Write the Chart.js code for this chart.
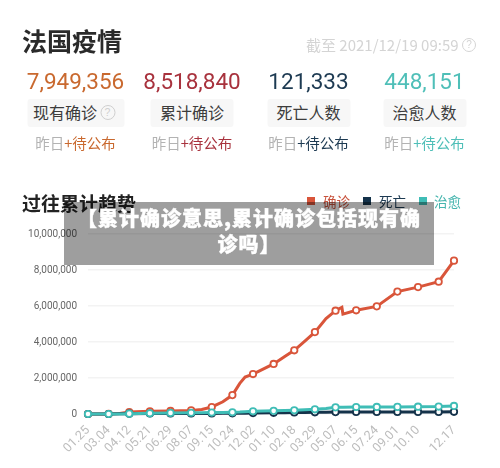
<!DOCTYPE html>
<html><head><meta charset="utf-8">
<script src="https://cdn.jsdelivr.net/npm/chart.js@4"></script>
<style>
html,body{margin:0;padding:0;background:#fff;width:500px;height:468px;overflow:hidden;font-family:"Noto Sans CJK SC","Noto Sans",sans-serif}
.t{position:absolute;white-space:nowrap;transform:translateX(-50%)}
#title{position:absolute;left:22px;top:24px;font-size:25px;line-height:32px;font-weight:700;color:#2a2a2a}
#stamp{position:absolute;left:306px;top:35px;font-size:15px;line-height:20px;color:#d4d4d4}
.q{display:inline-block;box-sizing:border-box;border:1.3px solid currentColor;border-radius:50%;text-align:center;font-family:"Liberation Sans"}
#stamp .q{position:absolute;left:156px;top:3px;width:14px;height:14px;font-size:10px;line-height:12px}
.pill .q{position:absolute;left:73px;top:6px;width:15px;height:15px;font-size:10.5px;line-height:13px;color:#cfcfcf;text-indent:0}
.num{font-family:Roboto,sans-serif;font-size:22.5px;line-height:30px;top:66px}
.pill{top:99px;height:28px;line-height:27px;background:#f7f7f7;border-radius:3px;font-size:16px;color:#3c3c3c;text-align:center;letter-spacing:0}
.sub{top:132px;font-size:14.5px;line-height:22px;color:#b3b3b3}
#trendTitle{position:absolute;left:22px;top:190px;font-size:19px;line-height:26px;font-weight:700;color:#222}
#legend{position:absolute;top:191px;left:0;width:500px;height:20px;font-size:13.5px;line-height:20px}
#legend i{position:absolute;top:6px;width:8px;height:8px}
#legend span{position:absolute;top:0}
#chart{position:absolute;left:0;top:0}
#banner{position:absolute;left:64px;top:202px;width:370px;height:63px;background:rgba(0,0,0,.38);color:#fff;font-weight:900;font-size:20px;line-height:26px;letter-spacing:1px;text-align:center;padding-top:3px;box-sizing:border-box;-webkit-text-stroke:.4px #fff}
</style></head><body>
<canvas id="chart" width="500" height="468"></canvas>
<div id="title">法国疫情</div>
<div id="stamp">截至 2021/12/19 09:59<span class="q">?</span></div>
<div id="cards"></div>
<div id="trendTitle">过往累计趋势</div>
<div id="legend"></div>
<div id="banner">【累计确诊意思,累计确诊包括现有确<br>诊吗】</div>
<script>
// Headline figures
const cardValues = ["7,949,356","8,518,840","121,333","448,151"];
const cardNames = ["现有确诊","累计确诊","死亡人数","治愈人数"];
const cardColors = ["#c9692f","#a8323d","#1d3a52","#4fbfb8"];
const cardCenters = [75.5,192,308.5,424.5];
const cardWidths = [97,83,83,83];

// Day offsets from 2020-01-25 with their axis labels; 11.18 has no printed label
const tickDays = [0,39,78,117,156,195,234,273,312,351,390,429,468,507,546,585,624,692];
const tickLabels = ["01.25","03.04","04.12","05.21","06.29","08.07","09.15","10.24","12.02","01.10","02.18","03.29","05.07","06.15","07.24","09.01","10.10","12.17"];
const markerDays = [0,39,78,117,156,195,234,273,312,351,390,429,468,507,546,585,624,663,692];

// Cumulative series, sampled by day offset
const sampleDays = [0,39,60,78,117,156,195,215,234,255,273,287,297,312,351,372,390,410,429,450,468,480,482,507,546,585,624,663,692];
const confirmedVals = [0,4000,30000,110000,150000,170000,200000,250000,390000,680000,1050000,1700000,2050000,2220000,2780000,3200000,3540000,4050000,4550000,5300000,5740000,5930000,5550000,5760000,5980000,6800000,7050000,7350000,8518840];
const deathVals = [0,100,10000,18000,28000,30000,31000,32000,33000,35000,38000,42000,46000,53000,67000,76000,84000,90000,95000,101000,106000,108000,108500,110000,112000,114000,115000,118000,121333];
const curedVals = [0,100,5000,20000,40000,60000,70000,75000,80000,85000,95000,105000,120000,150000,175000,190000,205000,230000,260000,310000,370000,375000,376000,390000,392000,395000,405000,415000,448151];

const seriesColors = {confirmed:"#d9553a",death:"#14324a",cured:"#3fbdb6"};

// Summary cards above the chart
const cards = document.getElementById("cards");
cardValues.forEach((v,i)=>{
  const c = cardCenters[i];
  const first = i===0;
  cards.insertAdjacentHTML("beforeend",
    `<div class="t num" style="left:${c}px;color:${cardColors[i]}">${v}</div>`+
    `<div class="t pill" style="left:${c}px;width:${cardWidths[i]}px;${first?'text-align:left;text-indent:6px;':''}">${cardNames[i]}${first?'<span class="q">?</span>':''}</div>`+
    `<div class="t sub" style="left:${c}px">昨日<span style="color:${cardColors[i]}">+待公布</span></div>`);
});

// Legend
const legendItems = [["确诊",seriesColors.confirmed,307,323,"#c8523c"],["死亡",seriesColors.death,363,379,"#1d3a52"],["治愈",seriesColors.cured,419,434,"#45b5ae"]];
const legend = document.getElementById("legend");
legendItems.forEach(([n,c,a,b,tc])=>{
  legend.insertAdjacentHTML("beforeend",`<i style="left:${a}px;background:${c}"></i><span style="left:${b}px;color:${tc}">${n}</span>`);
});

function toPoints(vals){return sampleDays.map((d,i)=>({x:d,y:vals[i]}));}
function markerRadius(ctx){return markerDays.includes(ctx.raw.x)?3.2:0;}
function dataset(vals,color,order){
  return {data:toPoints(vals),order,borderColor:color,backgroundColor:color,borderWidth:3,clip:false,
    tension:0,pointRadius:markerRadius,pointBackgroundColor:"#fff",pointBorderColor:color,pointBorderWidth:1.8,pointHoverRadius:0};
}

new Chart(document.getElementById("chart"),{
  type:"line",
  data:{datasets:[dataset(confirmedVals,seriesColors.confirmed,3),dataset(deathVals,seriesColors.death,2),dataset(curedVals,seriesColors.cured,1)]},
  options:{
    responsive:false,animation:false,
    layout:{padding:{left:0,right:46,top:234,bottom:0}},
    plugins:{legend:{display:false},tooltip:{enabled:false}},
    scales:{
      x:{type:"linear",min:0,max:692,afterFit(a){a.height=54;},
        grid:{display:false},border:{display:false},
        afterBuildTicks(a){a.ticks=tickDays.map(v=>({value:v}));},
        ticks:{autoSkip:false,maxRotation:45,minRotation:45,color:"#bdbdbd",padding:1,
          font:{family:"Roboto",size:12.5},
          callback(v){return tickLabels[tickDays.indexOf(v)];}}},
      y:{min:0,max:10000000,afterFit(a){a.width=88;},
        border:{display:false},
        grid:{color:"#f3f3f3",lineWidth:1.5,drawTicks:false},
        afterBuildTicks(a){a.ticks=[0,2e6,4e6,6e6,8e6,1e7].map(v=>({value:v}));},
        ticks:{color:"#666",padding:11,font:{family:"Roboto",size:10},
          callback(v){return v.toLocaleString("en-US");}}}
    }
  }
});
</script>
</body></html>
